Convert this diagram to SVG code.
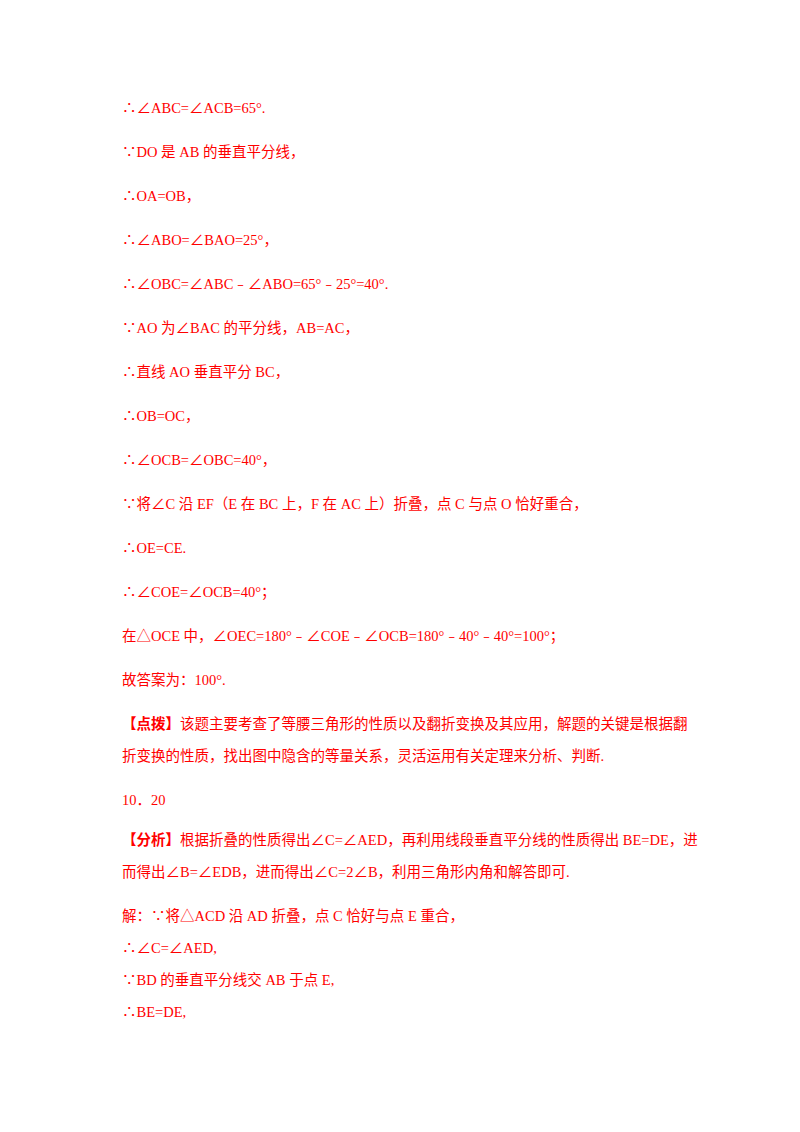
<svg xmlns="http://www.w3.org/2000/svg" width="800" height="1132" viewBox="0 0 800 1132">
<style>
text{font-family:"Liberation Serif","Noto Sans CJK SC",serif;font-size:14.5px;fill:#ff0000}
.b{font-weight:bold}
</style>
<rect width="800" height="1132" fill="#fff"/>
<g id="text">
<text x="122" y="113">∴∠ABC=∠ACB=65°.</text>
<text x="122" y="157">∵DO 是 AB 的垂直平分线，</text>
<text x="122" y="201">∴OA=OB，</text>
<text x="122" y="245">∴∠ABO=∠BAO=25°，</text>
<text x="122" y="289">∴∠OBC=∠ABC﹣∠ABO=65°﹣25°=40°.</text>
<text x="122" y="333">∵AO 为∠BAC 的平分线，AB=AC，</text>
<text x="122" y="377">∴直线 AO 垂直平分 BC，</text>
<text x="122" y="421">∴OB=OC，</text>
<text x="122" y="465">∴∠OCB=∠OBC=40°，</text>
<text x="122" y="509">∵将∠C 沿 EF（E 在 BC 上，F 在 AC 上）折叠，点 C 与点 O 恰好重合，</text>
<text x="122" y="553">∴OE=CE.</text>
<text x="122" y="597">∴∠COE=∠OCB=40°；</text>
<text x="122" y="641">在△OCE 中，∠OEC=180°﹣∠COE﹣∠OCB=180°﹣40°﹣40°=100°；</text>
<text x="122" y="685">故答案为：100°.</text>
<text x="122" y="729"><tspan class="b">【点拨】</tspan>该题主要考查了等腰三角形的性质以及翻折变换及其应用，解题的关键是根据翻</text>
<text x="122" y="761">折变换的性质，找出图中隐含的等量关系，灵活运用有关定理来分析、判断.</text>
<text x="122" y="805">10．20</text>
<text x="122" y="845"><tspan class="b">【分析】</tspan>根据折叠的性质得出∠C=∠AED，再利用线段垂直平分线的性质得出 BE=DE，进</text>
<text x="122" y="877">而得出∠B=∠EDB，进而得出∠C=2∠B，利用三角形内角和解答即可.</text>
<text x="122" y="921">解：∵将△ACD 沿 AD 折叠，点 C 恰好与点 E 重合，</text>
<text x="122" y="953">∴∠C=∠AED,</text>
<text x="122" y="985">∵BD 的垂直平分线交 AB 于点 E,</text>
<text x="122" y="1017">∴BE=DE,</text>
</g>
</svg>
